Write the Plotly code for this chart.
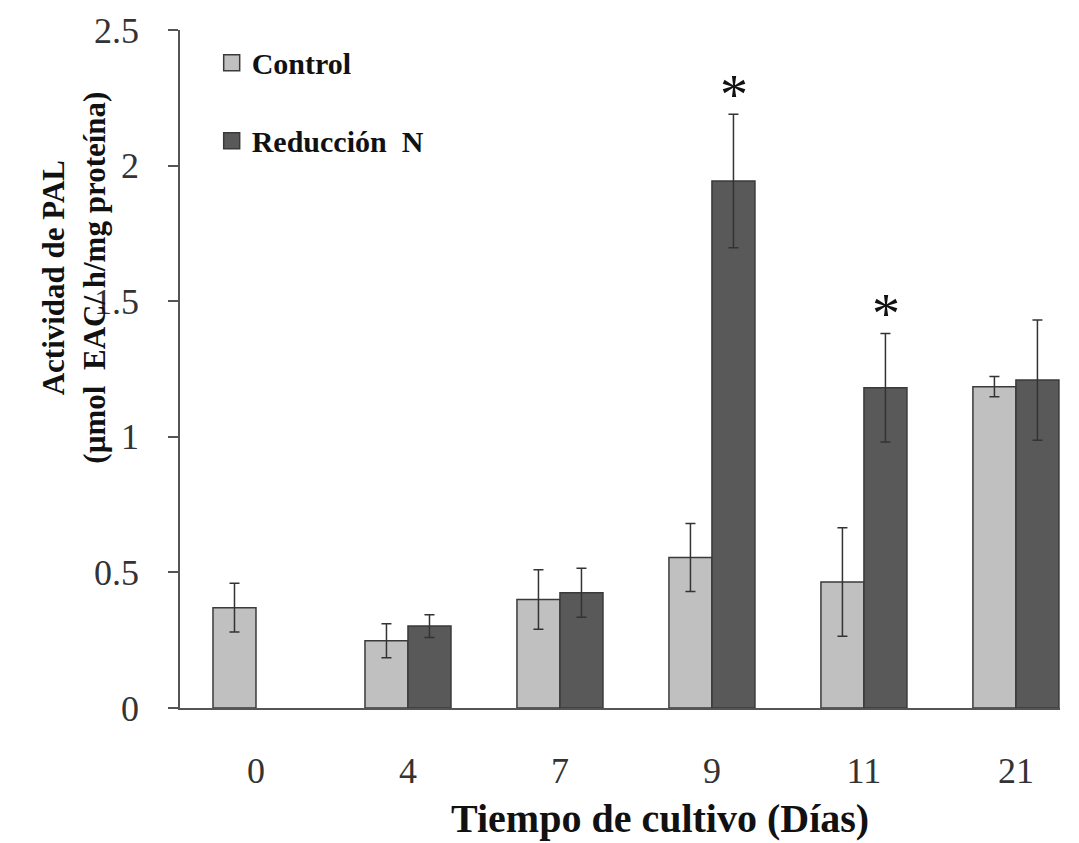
import plotly.graph_objects as go

days = ["0", "4", "7", "9", "11", "21"]
control = [0.37, 0.248, 0.40, 0.555, 0.465, 1.185]
control_err = [0.09, 0.063, 0.11, 0.125, 0.20, 0.037]
reduccion = [None, 0.302, 0.425, 1.943, 1.181, 1.209]
reduccion_err = [None, 0.042, 0.09, 0.246, 0.20, 0.222]
signif = ["9", "11"]

FONT = "Liberation Serif"
fig = go.Figure()
fig.add_trace(go.Bar(
    x=days, y=control, name="Control", showlegend=False,
    marker=dict(color="#c0c0c0", line=dict(color="#3a3a3a", width=1.5)),
    error_y=dict(type="data", array=control_err, color="#333333", thickness=1.5, width=5),
))
fig.add_trace(go.Bar(
    x=days, y=reduccion, name="Reducción  N", showlegend=False,
    marker=dict(color="#595959", line=dict(color="#3a3a3a", width=1.5)),
    error_y=dict(type="data", array=reduccion_err, color="#333333", thickness=1.5, width=5),
))
# legend entries
fig.add_trace(go.Scatter(x=[None], y=[None], mode="markers", name="Control", legendgroup="a",
                         marker=dict(symbol="square", size=18, color="#c0c0c0",
                                     line=dict(color="#3a3a3a", width=1.5))))
fig.add_trace(go.Scatter(x=[None], y=[None], mode="markers", name="Reducción  N", legendgroup="b",
                         marker=dict(symbol="square", size=18, color="#595959",
                                     line=dict(color="#3a3a3a", width=1.5))))

for d in signif:
    i = days.index(d)
    fig.add_annotation(x=i, y=reduccion[i] + reduccion_err[i], text="*", showarrow=False,
                       xshift=22, yanchor="bottom", yshift=-14, xanchor="center",
                       font=dict(family=FONT, size=56, color="#111111"))

fig.add_annotation(xref="paper", yref="paper", x=-0.121, y=0.634, textangle=-90,
                   xanchor="center", yanchor="middle",
                   text="<b>Actividad de PAL</b><br><b>(µmol  EAC/ h/mg proteína)</b>",
                   showarrow=False, font=dict(family=FONT, size=31, color="#111111"))
fig.add_annotation(xref="paper", yref="paper", x=0.545, y=-0.163,
                   xanchor="center", yanchor="middle",
                   text="<b>Tiempo de cultivo (Días)</b>",
                   showarrow=False, font=dict(family=FONT, size=40, color="#111111"))

fig.update_layout(
    width=1079, height=843,
    margin=dict(l=180, r=19, t=30, b=135),
    paper_bgcolor="white", plot_bgcolor="white",
    barmode="group", bargap=0.434, bargroupgap=0,
    font=dict(family=FONT, color="#333333"),
    legend=dict(x=0.036, y=0.99, xanchor="left", yanchor="top",
                font=dict(family=FONT, size=30, color="#111111", weight="bold"),
                tracegroupgap=36, bgcolor="rgba(0,0,0,0)"),
    xaxis=dict(type="category", range=[-0.5, 5.29], showline=True, linecolor="#555555",
               linewidth=1.5, ticks="", showgrid=False, zeroline=False,
               tickfont=dict(family=FONT, size=36, color="#333333"), ticklabelstandoff=30),
    yaxis=dict(range=[0, 2.5], tickvals=[0, 0.5, 1, 1.5, 2, 2.5],
               ticktext=["0", "0.5", "1", "1.5", "2", "2.5"],
               showline=True, linecolor="#555555", linewidth=1.5,
               ticks="outside", ticklen=10, tickcolor="#555555", tickwidth=1.5,
               showgrid=False, zeroline=False,
               tickfont=dict(family=FONT, size=36, color="#333333"), ticklabelstandoff=22),
)
fig.write_html("out.html")
